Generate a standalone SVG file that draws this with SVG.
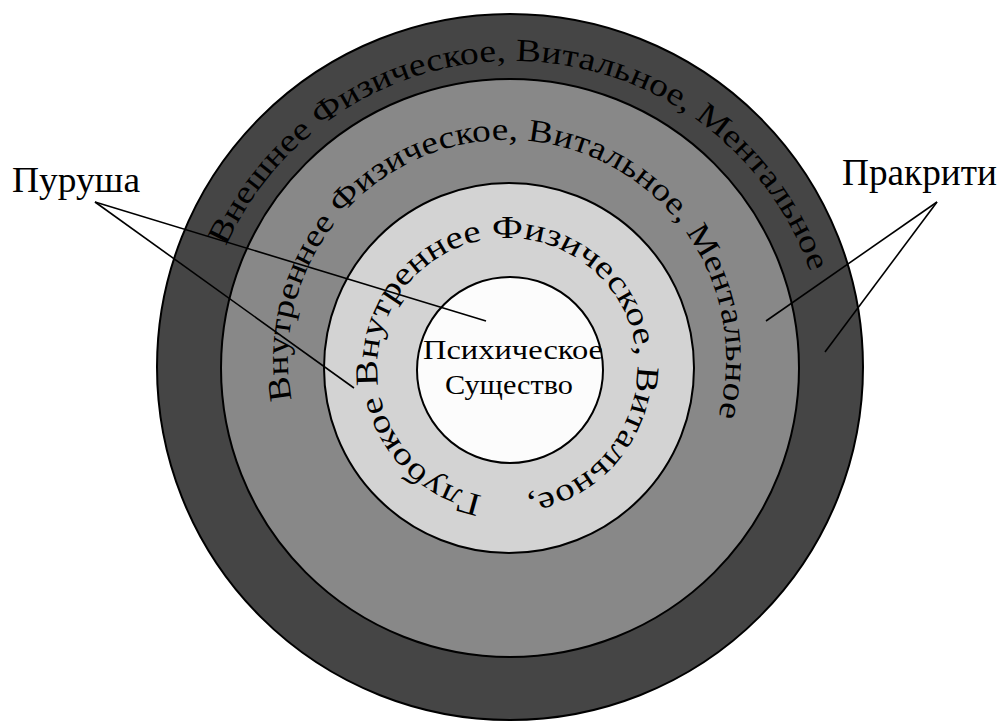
<svg xmlns="http://www.w3.org/2000/svg" width="1000" height="722" viewBox="0 0 1000 722">
<style>
.ring{stroke:#000;stroke-width:2}
.t{font-family:"Liberation Serif","Times New Roman",serif;fill:#000}
.rt{font-size:32px}
.lead{stroke:#000;stroke-width:1.6;fill:none}
</style>
<defs>
<path id="p1" d="M225.9,246.4 A315,315 0 0 1 810.3,271.9"/>
<path id="p2" d="M291.8,399.7 A219,219 0 1 1 718.2,416.8"/>
<path id="p3" d="M482.2,495.6 A130,130 0 1 1 526.9,496.5"/>
</defs>
<rect width="1000" height="722" fill="#fff"/>
<g id="outer-ring">
<circle class="ring" cx="510" cy="367" r="353" fill="#454545"/>
<text class="t rt"><textPath href="#p1" textLength="750" lengthAdjust="spacingAndGlyphs">Внешнее Физическое, Витальное, Ментальное</textPath></text>
</g>
<g id="middle-ring">
<circle class="ring" cx="510" cy="368" r="289" fill="#888888"/>
<text class="t rt"><textPath href="#p2" textLength="787" lengthAdjust="spacingAndGlyphs">Внутреннее Физическое, Витальное, Ментальное</textPath></text>
</g>
<g id="inner-ring">
<circle class="ring" cx="509" cy="368" r="185" fill="#d3d3d3"/>
<text class="t rt"><textPath href="#p3" textLength="772" lengthAdjust="spacingAndGlyphs">Глубокое Внутреннее Физическое, Витальное,</textPath></text>
</g>
<g id="psychic-being">
<circle class="ring" cx="510" cy="370" r="93" fill="#fcfcfc"/>
<text class="t" x="513" y="359" font-size="28" text-anchor="middle" textLength="180" lengthAdjust="spacingAndGlyphs">Психическое</text>
<text class="t" x="509" y="394" font-size="28" text-anchor="middle" textLength="128" lengthAdjust="spacingAndGlyphs">Существо</text>
</g>
<g id="connectors">
<line class="lead" x1="95" y1="202" x2="486" y2="321"/>
<line class="lead" x1="95" y1="202" x2="354" y2="388"/>
<line class="lead" x1="937" y1="202" x2="766" y2="321"/>
<line class="lead" x1="937" y1="202" x2="825" y2="352"/>
</g>
<g id="purusha">
<text class="t" x="12" y="192" font-size="36" textLength="128" lengthAdjust="spacingAndGlyphs">Пуруша</text>
</g>
<g id="prakriti">
<text class="t" x="842" y="185" font-size="37" textLength="155" lengthAdjust="spacingAndGlyphs">Пракрити</text>
</g>
</svg>
